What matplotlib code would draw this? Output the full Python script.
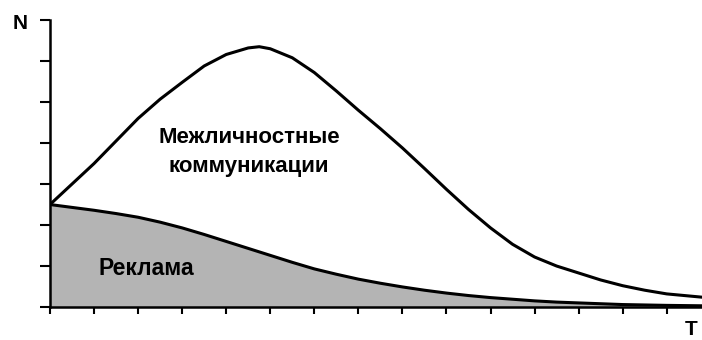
import matplotlib
matplotlib.use("Agg")
from matplotlib import pyplot as plt

# values
t_upper = [0, 0.5, 1, 1.5, 2, 2.5, 3, 3.5, 4, 4.5, 4.75, 5, 5.5, 6, 6.5, 7,
           7.5, 8, 8.5, 9, 9.5, 10, 10.5, 11, 11.5, 12, 12.5, 13, 13.5, 14,
           14.8]
interpersonal = [2.5, 3.0, 3.5, 4.05, 4.6, 5.07, 5.48, 5.88, 6.16, 6.32,
                 6.35, 6.3, 6.08, 5.72, 5.27, 4.8, 4.35, 3.88, 3.38, 2.87,
                 2.38, 1.93, 1.53, 1.22, 1.0, 0.83, 0.66, 0.52, 0.41, 0.32,
                 0.24]

t_lower = [0, 0.5, 1, 1.5, 2, 2.5, 3, 3.5, 4, 4.5, 5, 5.5, 6, 6.5, 7, 7.5,
           8, 8.5, 9, 9.5, 10, 10.5, 11, 11.5, 12, 12.5, 13, 13.5, 14, 14.8]
advertising = [2.5, 2.43, 2.36, 2.28, 2.19, 2.07, 1.93, 1.77, 1.6, 1.43,
               1.26, 1.09, 0.93, 0.8, 0.68, 0.58, 0.49, 0.41, 0.34, 0.28,
               0.23, 0.19, 0.15, 0.12, 0.1, 0.08, 0.06, 0.05, 0.04, 0.03]

x_ticks = list(range(0, 15))
y_ticks = list(range(0, 8))

plt.rcParams["font.family"] = ["Liberation Sans", "DejaVu Sans"]

fig = plt.figure(figsize=(7.02, 3.40), dpi=100)
ax = fig.add_axes([0.0712, 0.097, 0.9288, 0.844])

ax.fill_between(t_lower, 0, advertising, color="#b4b4b4", linewidth=0)
ax.plot(t_lower, advertising, color="black", linewidth=2.2)
ax.plot(t_upper, interpersonal, color="black", linewidth=2.2)

ax.set_xlim(0, 14.8)
ax.set_ylim(0, 7)
ax.set_xticks(x_ticks)
ax.set_yticks(y_ticks)
ax.set_xticklabels([])
ax.set_yticklabels([])
ax.tick_params(axis="y", direction="out", length=7, width=1.5, color="black")
ax.tick_params(axis="x", direction="out", length=5, width=1.5, color="black")

for side in ["top", "right"]:
    ax.spines[side].set_visible(False)
for side in ["left", "bottom"]:
    ax.spines[side].set_color("black")
    ax.spines[side].set_linewidth(1.8)

ax.text(4.52, 4.0, "Межличностные", ha="center", va="baseline",
        fontsize=16, fontweight="bold")
ax.text(4.52, 3.29, "коммуникации", ha="center", va="baseline",
        fontsize=16, fontweight="bold")
ax.text(1.09, 0.78, "Реклама", ha="left", va="baseline",
        fontsize=16.5, fontweight="bold")

fig.text(0.029, 0.932, "N", ha="center", va="center", fontsize=15, fontweight="bold")
fig.text(0.985, 0.004, "T", ha="center", va="bottom", fontsize=15, fontweight="bold")

fig.savefig("out.png", dpi=100, facecolor="white")
plt.close(fig)
